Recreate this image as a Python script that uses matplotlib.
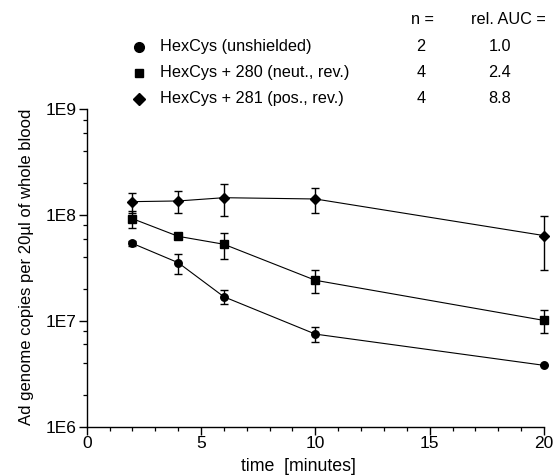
import numpy as np
import matplotlib
matplotlib.use("Agg")
import matplotlib.pyplot as plt
from matplotlib.ticker import LogLocator, FuncFormatter, MultipleLocator

plt.rcParams['font.family'] = ['Liberation Sans', 'DejaVu Sans']

# data
time = [2, 4, 6, 10, 20]
names = ["HexCys (unshielded)", "HexCys + 280 (neut., rev.)", "HexCys + 281 (pos., rev.)"]
markers = ["o", "s", "D"]
n_vals = ["2", "4", "4"]
auc_vals = ["1.0", "2.4", "8.8"]

unshielded = [5.4e7, 3.55e7, 1.69e7, 7.5e6, 3.8e6]
unshielded_sd = [0.31e7, 0.77e7, 0.26e7, 1.17e6, 0]
neut = [9.25e7, 6.3e7, 5.3e7, 2.42e7, 1.01e7]
neut_sd = [1.75e7, 0.42e7, 1.48e7, 0.58e7, 0.25e7]
pos = [1.34e8, 1.36e8, 1.46e8, 1.42e8, 6.4e7]
pos_sd = [0.29e8, 0.32e8, 0.49e8, 0.38e8, 3.4e7]

series = [unshielded, neut, pos]
errors = [unshielded_sd, neut_sd, pos_sd]
plot_ms = {"o": 5.4, "s": 5.2, "D": 4.9}
legend_ms = {"o": 7.0, "s": 6.0, "D": 6.6}

fig = plt.figure(figsize=(5.54, 4.76), dpi=100)
ax = fig.add_axes([0.1565, 0.1036, 0.8255, 0.6668])

for vals, sd, m in zip(series, errors, markers):
    ax.errorbar(time, vals, yerr=sd, color="black", marker=m, ms=plot_ms[m],
                lw=0.8, elinewidth=1.0, capsize=2.6, capthick=1.0, clip_on=False)

ax.set_yscale("log")
ax.set_ylim(1e6, 1e9)
ax.set_xlim(0, 20)
ax.yaxis.set_major_locator(LogLocator(base=10, numticks=10))
ax.yaxis.set_minor_locator(LogLocator(base=10, subs=[2, 4, 6, 8], numticks=10))
ax.yaxis.set_major_formatter(FuncFormatter(lambda v, p: "1E%d" % round(np.log10(v))))
ax.yaxis.set_minor_formatter(FuncFormatter(lambda v, p: ""))
ax.xaxis.set_major_locator(MultipleLocator(5))
ax.xaxis.set_minor_locator(MultipleLocator(1))

for s in ["top", "right"]:
    ax.spines[s].set_visible(False)
for s in ["left", "bottom"]:
    ax.spines[s].set_linewidth(1.0)

ax.tick_params(which="major", direction="out", length=5.5, width=1.0, labelsize=12.5)
ax.tick_params(axis="y", which="major", pad=1.5)
ax.tick_params(axis="x", which="major", pad=1.5)
ax.tick_params(which="minor", direction="out", length=3, width=0.9)

ax.set_xlabel("time  [minutes]", fontsize=12.8)
ax.xaxis.set_label_coords(0.4636, -0.126)
ax.xaxis.label.set_va("center")
ax.set_ylabel("Ad genome copies per 20\u00b5l of whole blood", fontsize=12)
ax.yaxis.set_label_coords(-0.131, 0.505)
ax.yaxis.label.set_va("center")

# legend block drawn as text in figure pixels
W, H = 554, 476
def fx(px):
    return px / W
def fy(py):
    return 1 - py / H

fs = 11.7
fig.text(fx(422), fy(20), "n =", fontsize=fs, ha="center", va="center")
fig.text(fx(508), fy(20), "rel. AUC =", fontsize=fs, ha="center", va="center")
rows = [46.7, 72.7, 98.7]
for name, m, n, a, ry in zip(names, markers, n_vals, auc_vals, rows):
    fig.lines.append(plt.Line2D([fx(139)], [fy(ry)], marker=m, color="black",
                                ms=legend_ms[m], transform=fig.transFigure))
    fig.text(fx(160.5), fy(ry), name, fontsize=fs, ha="left", va="center")
    fig.text(fx(421), fy(ry), n, fontsize=fs, ha="center", va="center")
    fig.text(fx(500), fy(ry), a, fontsize=fs, ha="center", va="center")

fig.savefig("out.png", dpi=100)
